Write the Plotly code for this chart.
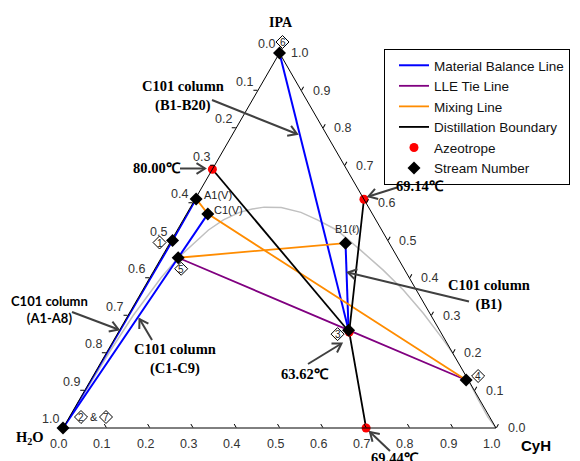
import math
import plotly.graph_objects as go

# ---------------- data (mole fractions) ----------------
stream_labels = ["6", "2&7", "1", "5", "3", "4", "A1(V)", "C1(V)", "B1(ℓ)"]
stream_ipa = [1.000, 0.000, 0.500, 0.454, 0.261, 0.128, 0.611, 0.571, 0.493]
stream_cyh = [0.000, 0.000, 0.003, 0.039, 0.529, 0.867, 0.002, 0.049, 0.406]
stream_h2o = [0.000, 1.000, 0.497, 0.507, 0.210, 0.005, 0.387, 0.380, 0.101]

azeo_labels = ["80.00℃", "69.14℃", "69.44℃", "63.62℃"]
azeo_ipa = [0.690, 0.610, 0.000, 0.256]
azeo_cyh = [0.000, 0.390, 0.700, 0.533]
azeo_h2o = [0.310, 0.000, 0.300, 0.211]

material_balance_paths = [["2&7", "1", "A1(V)"], ["2&7", "5", "C1(V)"], ["6", "3"], ["B1(ℓ)", "3"]]
lle_tie_paths = [["5", "3", "4"]]
mixing_paths = [["A1(V)", "C1(V)", "4"], ["5", "B1(ℓ)"]]
boundary_paths = [["80.00℃", "63.62℃"], ["69.14℃", "63.62℃", "69.44℃"]]

# LLE envelope (binodal curve)
lle_ipa = [0.000, 0.100, 0.200, 0.300, 0.400, 0.454, 0.528, 0.555, 0.575, 0.584, 0.589,
           0.588, 0.575, 0.555, 0.528, 0.475, 0.421, 0.368, 0.306, 0.235, 0.172, 0.128,
           0.075, 0.030, 0.000]
lle_cyh = [0.000, 0.003, 0.006, 0.012, 0.026, 0.039, 0.072, 0.093, 0.120, 0.145, 0.170,
           0.210, 0.262, 0.310, 0.368, 0.449, 0.529, 0.602, 0.679, 0.761, 0.831, 0.872,
           0.922, 0.966, 1.000]
lle_h2o = [round(1 - a - c, 4) for a, c in zip(lle_ipa, lle_cyh)]

tick_vals = [i / 10 for i in range(11)]
tick_text = ["%.1f" % v for v in tick_vals]

# ---------------- geometry (screen pixels; page body has an 8px margin) ----------------
OFF = 8
FIG_W, FIG_H = 580 - OFF, 461 - OFF
TRI_LEFT, TRI_SIDE, TRI_BOTTOM = 63, 433, 428
TRI_H = TRI_SIDE * math.sqrt(3) / 2
cy_center = TRI_BOTTOM - TRI_H / 2
dom_half = (TRI_H + 6) / 2

def tern_px(ipa, cyh):
    return TRI_LEFT + (cyh + ipa / 2) * TRI_SIDE, TRI_BOTTOM - ipa * TRI_H

def paper(px, py):
    return (px - OFF) / FIG_W, 1 - (py - OFF) / FIG_H

lookup = {}
for n, a, c, b in zip(stream_labels, stream_ipa, stream_cyh, stream_h2o):
    lookup[n] = (a, c, b)
for n, a, c, b in zip(azeo_labels, azeo_ipa, azeo_cyh, azeo_h2o):
    lookup[n] = (a, c, b)

def build(paths):
    A, B, C = [], [], []
    for p in paths:
        for n in p:
            a, c, b = lookup[n]
            A.append(a); B.append(b); C.append(c)
        A.append(None); B.append(None); C.append(None)
    return A, B, C

fig = go.Figure()

# binodal curve
fig.add_trace(go.Scatterternary(a=lle_ipa, b=lle_h2o, c=lle_cyh, mode="lines",
                                line=dict(color="#c0c0c0", width=1.5), showlegend=False,
                                cliponaxis=False, hoverinfo="skip"))

for name, paths, color, width in [
    ("Material Balance Line", material_balance_paths, "#0000ff", 2),
    ("LLE Tie Line", lle_tie_paths, "#800080", 1.8),
    ("Mixing Line", mixing_paths, "#ff8c00", 1.8),
    ("Distillation Boundary", boundary_paths, "#000000", 1.8),
]:
    A, B, C = build(paths)
    fig.add_trace(go.Scatterternary(a=A, b=B, c=C, mode="lines", name=name,
                                    line=dict(color=color, width=width),
                                    connectgaps=False, cliponaxis=False))

fig.add_trace(go.Scatterternary(a=azeo_ipa, b=azeo_h2o, c=azeo_cyh, mode="markers",
                                name="Azeotrope", cliponaxis=False,
                                marker=dict(color="#ff0000", size=9, symbol="circle")))
fig.add_trace(go.Scatterternary(a=stream_ipa, b=stream_h2o, c=stream_cyh, mode="markers",
                                name="Stream Number", cliponaxis=False,
                                marker=dict(color="#000000", size=10, symbol="diamond")))

def axis_style(ticks):
    return dict(tickmode="array", tickvals=tick_vals, showticklabels=False,
                ticks=ticks, ticklen=4, tickcolor="black", linecolor="black",
                linewidth=1, showgrid=False, title=dict(text=""))

annotations = []
shapes = []

SERIF = "Liberation Serif, Times New Roman, serif"
SANS = "Liberation Sans, Arial, sans-serif"

def text(px, py, s, size, family, bold=True, color="black", xanchor="center"):
    x, y = paper(px, py)
    annotations.append(dict(x=x, y=y, xref="paper", yref="paper", text=("<b>%s</b>" % s) if bold else s,
                            showarrow=False, xanchor=xanchor, yanchor="middle",
                            font=dict(family=family, size=size, color=color)))

def arrow(tail, head, color="#404040", width=2, L=10, ang=32):
    tx, ty = tail; hx, hy = head
    dx, dy = hx - tx, hy - ty
    d = math.hypot(dx, dy); ux, uy = dx / d, dy / d
    pts = []
    for s in (1, -1):
        t = math.radians(ang) * s
        rx = ux * math.cos(t) - uy * math.sin(t)
        ry = ux * math.sin(t) + uy * math.cos(t)
        pts.append((hx - L * rx, hy - L * ry))
    def P(p):
        x, y = paper(*p)
        return "%.5f,%.5f" % (x, y)
    shapes.append(dict(type="path", xref="paper", yref="paper",
                       path="M%s L%s" % (P(tail), P(head)), line=dict(color=color, width=width)))
    shapes.append(dict(type="path", xref="paper", yref="paper",
                       path="M%s L%s L%s" % (P(pts[0]), P(head), P(pts[1])),
                       line=dict(color=color, width=width)))

def diamond_label(cx, cy, s, r=6.5):
    pts = [(cx, cy - r), (cx + r, cy), (cx, cy + r), (cx - r, cy)]
    path = "M" + " L".join("%.5f,%.5f" % paper(*p) for p in pts) + " Z"
    shapes.append(dict(type="path", xref="paper", yref="paper", path=path,
                       line=dict(color="black", width=1), fillcolor="white"))
    text(cx, cy + 0.5, s, 10, SANS, bold=False, color="#222222")

# tick labels: left edge = H2O, bottom edge = CyH, right edge = IPA
TICK_FONT = 12.5
for v, t in zip(tick_vals, tick_text):
    x, y = tern_px(1 - v, 0)          # left edge, H2O = v
    text(x - 13, y - 9, t, TICK_FONT, SANS, bold=False, color="#333333")
    x, y = tern_px(0, v)              # bottom edge, CyH = v
    text(x - 4.5, y + 16, t, TICK_FONT, SANS, bold=False, color="#333333")
    x, y = tern_px(v, 1 - v)          # right edge, IPA = v
    text(x + 20, y, t, TICK_FONT, SANS, bold=False, color="#333333")

# vertex titles
text(280.5, 22, "IPA", 14, SERIF)
text(30, 438, "H<sub>2</sub>O", 14.5, SERIF)
text(536, 445, "CyH", 15, SANS)

# column / temperature labels
text(183, 95.5, "C101 column<br>(B1-B20)", 14.5, SERIF)
text(156.5, 168.5, "80.00℃", 14.5, SERIF)
text(420, 186, "69.14℃", 14.5, SERIF)
text(49, 309, "C101 column<br>(A1-A8)", 13, "Lato, Liberation Sans, sans-serif")
text(175, 359, "C101 column<br>(C1-C9)", 14.5, SERIF)
text(489, 294.5, "C101 column<br>(B1)", 14.5, SERIF)
text(304.5, 374, "63.62℃", 14.5, SERIF)
text(395, 457.5, "69.44℃", 14.5, SERIF)

arrow((212, 100), (297, 134))
arrow((180, 168.5), (205, 168.5))
arrow((397, 187.5), (368.5, 196.5))
arrow((72, 312), (118.5, 329.5))
arrow((152, 340), (139.5, 319))
arrow((469, 301.5), (348, 272.5))
arrow((308, 364), (341.5, 343.5))
arrow((390, 451), (370, 432))

# stream point text labels
for name, dxy, anchor in [("A1(V)", (6, -4), "left"), ("C1(V)", (4, -4), "left"), ("B1(ℓ)", (1, -14), "center")]:
    a, c, b = lookup[name]
    px, py = tern_px(a, c)
    text(px + dxy[0], py + dxy[1], name, 11, SANS, bold=False, color="#222222", xanchor=anchor)

# stream number diamonds
for name, (ox, oy) in [("6", (3, -11)), ("1", (-13, 2)), ("5", (3, 11)), ("3", (-11, 4)), ("4", (12, -4))]:
    a, c, b = lookup[name]
    px, py = tern_px(a, c)
    diamond_label(px + ox, py + oy, name)
a, c, b = lookup["2&7"]
px, py = tern_px(a, c)
diamond_label(px + 18, py - 11, "2")
text(px + 30.5, py - 11, "&", 11, SANS, bold=False, color="#222222")
diamond_label(px + 43, py - 11, "7")

fig.update_layout(
    width=FIG_W, height=FIG_H,
    margin=dict(l=0, r=0, t=0, b=0, pad=0),
    paper_bgcolor="white",
    ternary=dict(
        sum=1, bgcolor="white",
        domain=dict(x=[(TRI_LEFT - OFF) / FIG_W, (TRI_LEFT + TRI_SIDE - OFF) / FIG_W],
                    y=[1 - (cy_center + dom_half - OFF) / FIG_H, 1 - (cy_center - dom_half - OFF) / FIG_H]),
        aaxis=axis_style("outside"), baxis=axis_style("inside"), caxis=axis_style("outside"),
    ),
    legend=dict(x=paper(384, 0)[0], y=paper(0, 49)[1], xanchor="left", yanchor="top",
                bordercolor="black", borderwidth=1, bgcolor="white", indentation=9,
                font=dict(family=SANS, size=13.5, color="#111111"),
                tracegroupgap=0),
    annotations=annotations, shapes=shapes,
    showlegend=True,
)

fig.write_html("out.html")
